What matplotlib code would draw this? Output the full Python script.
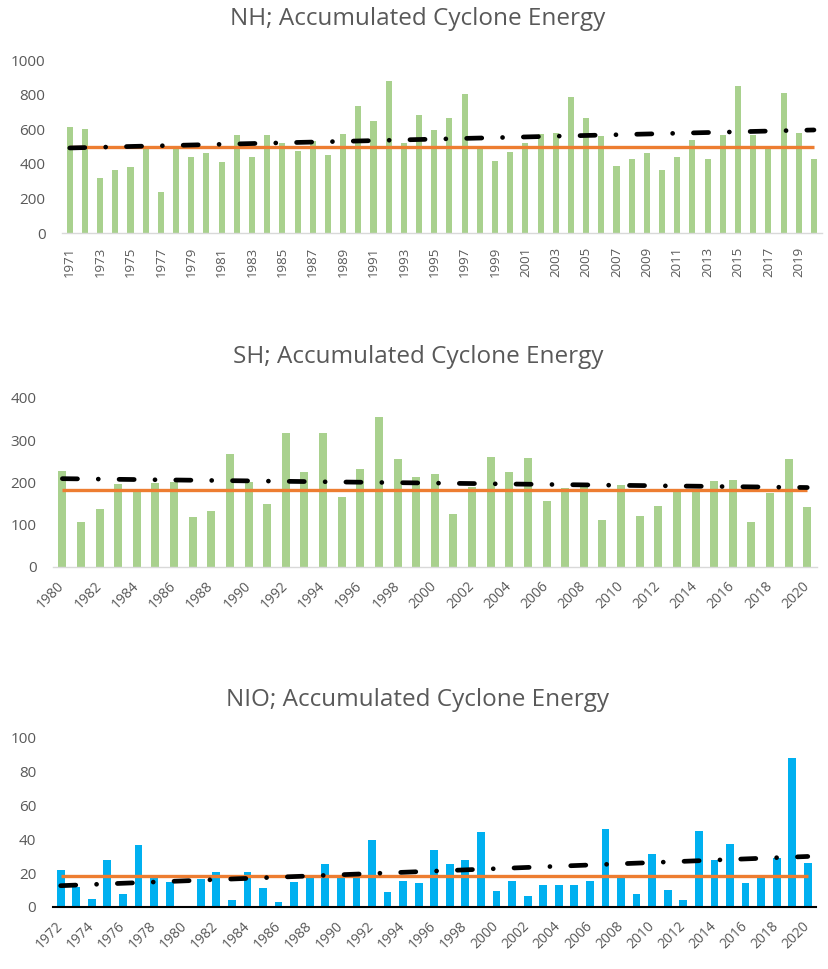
import numpy as np
import matplotlib
matplotlib.use("Agg")
import matplotlib.pyplot as plt

plt.rcParams['font.family'] = ['Open Sans', 'DejaVu Sans']

# ---- data ----
NH_YEARS = list(range(1971, 2021))
NH_ACE = [612, 604, 321, 365, 379, 490, 237, 495, 440, 461,
          410, 565, 440, 565, 519, 474, 534, 453, 572, 737,
          648, 879, 520, 683, 594, 663, 804, 490, 417, 467,
          519, 575, 580, 788, 663, 563, 385, 427, 462, 365,
          440, 538, 427, 567, 850, 565, 490, 812, 580, 427]
NH_MEAN = 496
NH_TREND = [492, 596]

SH_YEARS = list(range(1980, 2021))
SH_ACE = [228, 107, 138, 196, 182, 199, 202, 118, 132, 267,
          202, 148, 316, 224, 316, 165, 233, 356, 255, 213,
          221, 126, 190, 261, 224, 258, 157, 187, 197, 111,
          193, 120, 145, 183, 185, 203, 206, 107, 175, 255, 141]
SH_MEAN = 183
SH_TREND = [209, 188]

NIO_YEARS = list(range(1972, 2021))
NIO_ACE = [21.6, 12, 4.9, 27.7, 7.9, 36.9, 17, 15, 0.8, 16.5,
           20.6, 3.9, 20.6, 11, 2.8, 14.7, 17.7, 25.5, 18, 20.2,
           39.9, 8.8, 15.5, 14.1, 33.8, 25.3, 27.7, 44.4, 9.4, 15.5,
           6.3, 13.2, 13.2, 13.2, 15.5, 46, 17, 7.9, 31.4, 10,
           3.9, 45, 28, 37.5, 14.1, 17.5, 29, 88.4, 26.1]
NIO_MEAN = 18.5
NIO_TREND = [12.6, 29.9]

GREEN = "#A9D18E"
BLUE = "#00B0F0"
ORANGE = "#ED7D31"
TEXT = "#595959"


def draw_panel(fig, rect, years, values, mean, trend, color, ylim, yticks,
               title, title_xy, rot, bar_w, axis_color):
    ax = fig.add_axes(rect)
    x = np.arange(len(years))
    ax.bar(x, values, width=bar_w, color=color, zorder=2)
    ax.plot([x[0], x[-1]], [mean, mean], color=ORANGE, lw=2.4, zorder=3,
            solid_capstyle='butt')
    ax.plot([x[0], x[-1]], trend, color='black', lw=3.4, zorder=4,
            dashes=(3.2, 4.4, 0.01, 4.4), dash_capstyle='round')
    ax.set_xlim(-0.5, len(years) - 0.5)
    ax.set_ylim(*ylim)
    ax.set_yticks(yticks)
    ax.set_xticks(x[::2])
    labels = [str(y) for y in years[::2]]
    if rot == 90:
        ax.set_xticklabels(labels, rotation=90, fontsize=9.5, color=TEXT)
        ax.tick_params(axis='x', pad=10)
    else:
        ax.set_xticklabels(labels, rotation=45, ha='right', va='center',
                           rotation_mode='anchor', fontsize=10, color=TEXT)
        ax.tick_params(axis='x', pad=12)
    ax.tick_params(axis='y', labelsize=11, labelcolor=TEXT, pad=12)
    ax.tick_params(length=0)
    for s in ['top', 'right', 'left']:
        ax.spines[s].set_visible(False)
    ax.spines['bottom'].set_color(axis_color)
    ax.spines['bottom'].set_linewidth(1.0 if axis_color != 'black' else 1.5)
    ax.spines['bottom'].set_zorder(5)
    fig.text(title_xy[0], title_xy[1], title, ha='center', va='center',
             fontsize=17.5, color=TEXT)
    return ax


fig = plt.figure(figsize=(8.29, 9.69), dpi=100)

draw_panel(fig, [0.075, 0.7595, 0.916, 0.1785], NH_YEARS, NH_ACE, NH_MEAN,
           NH_TREND, GREEN, (0, 1000), [0, 200, 400, 600, 800, 1000],
           "NH; Accumulated Cyclone Energy", (418 / 829, 1 - 19 / 969), 90,
           0.4, "#D9D9D9")

draw_panel(fig, [0.064, 0.4149, 0.921, 0.1744], SH_YEARS, SH_ACE, SH_MEAN,
           SH_TREND, GREEN, (0, 400), [0, 100, 200, 300, 400],
           "SH; Accumulated Cyclone Energy", (418 / 829, 1 - 357 / 969), 45,
           0.43, "#D9D9D9")

draw_panel(fig, [0.0638, 0.064, 0.920, 0.1744], NIO_YEARS, NIO_ACE, NIO_MEAN,
           NIO_TREND, BLUE, (0, 100), [0, 20, 40, 60, 80, 100],
           "NIO; Accumulated Cyclone Energy", (418 / 829, 1 - 700 / 969), 45,
           0.5, "black")

plt.savefig("out.png", dpi=100)
